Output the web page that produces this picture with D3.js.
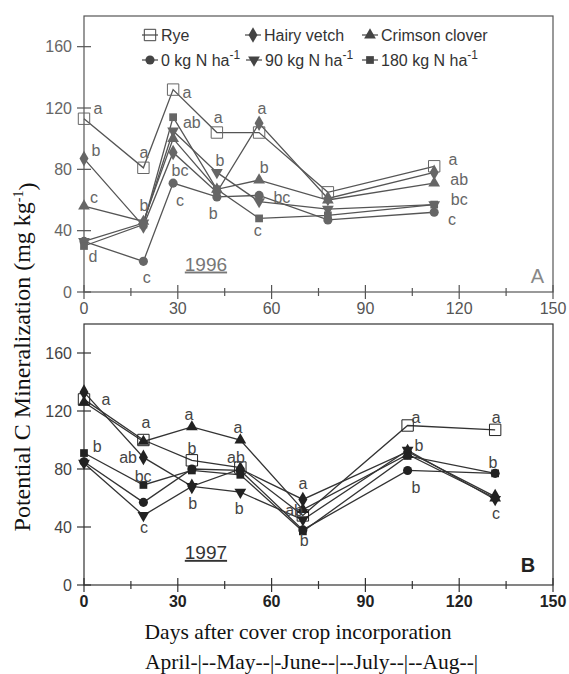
<!DOCTYPE html>
<html><head><meta charset="utf-8">
<script src="https://cdn.jsdelivr.net/npm/d3@7"></script>
<style>body{margin:0;background:#fff;} svg{display:block;}</style>
</head><body>
<script>
// ---------- DATA ----------
const seriesNames = ["Rye", "Hairy vetch", "Crimson clover", "0 kg N ha", "90 kg N ha", "180 kg N ha"];
const seriesKeys = ["rye", "hairy", "crimson", "n0", "n90", "n180"];
const xTicks = [0, 30, 60, 90, 120, 150];
const xMinorTicks = [15, 45, 75, 105, 135];
const yTicks = [0, 40, 80, 120, 160];

// Panel A (1996)
const daysA = [0, 19, 28.5, 42.5, 56, 78, 112];
const ryeA = [113, 81, 132, 104, 104, 65, 82];
const hairyA = [87, 43, 91, 65, 110, 61, 78];
const crimsonA = [56, 46, 100, 67, 73, 60, 71];
const n0A = [33, 20, 71, 62, 63, 47, 52];
const n90A = [33, 45, 105, 78, 59, 54, 57];
const n180A = [30, 44, 114, 67, 48, 50, 57];
const lettersA = [
  [4.5,120,"a"],[3.8,92.6,"b"],[3.2,62,"c"],[2.9,23.5,"d"],
  [19.2,91,"a"],[19.2,56.7,"b"],[20.1,9.8,"c"],
  [32.9,130,"a"],[34.5,111,"ab"],[30.7,79.6,"bc"],[30.7,60,"c"],
  [42.9,114,"a"],[43.5,86,"b"],[41.3,51.5,"b"],
  [56.9,120,"a"],[57.6,81.5,"b"],[63.3,62,"bc"],[55.6,40.4,"c"],
  [118,86.8,"a"],[120,73.7,"ab"],[120,60.7,"bc"],[117.7,47.6,"c"]
];

// Panel B (1997)
const daysB = [0, 19, 34.5, 50, 70, 103.5, 131.5];
const ryeB = [128, 100, 86, 81, 48, 110, 107];
const hairyB = [133, 88, 68, 80, 59, 92, 61];
const crimsonB = [126, 99, 109, 100, 52, 90, 60];
const n0B = [85, 57, 80, 79, 38, 79, 77];
const n90B = [84, 48, 68, 64, 45, 93, 59];
const n180B = [91, 69, 79, 76, 37, 89, 77];
const lettersB = [
  [7,128,"a"],[4.2,96,"b"],
  [19.8,112.4,"a"],[14.1,88.3,"ab"],[18.9,75,"bc"],[19.2,40,"c"],
  [33.6,118,"a"],[34.5,94.5,"b"],[34.8,56.6,"b"],
  [49.2,109,"a"],[48.6,88.3,"ab"],[49.6,53,"b"],
  [70,70.3,"a"],[67.2,51.7,"ab"],[70.4,31,"b"],
  [106.2,116,"a"],[107.1,96.5,"b"],[106.2,67.6,"b"],
  [131.8,116,"a"],[130.8,84.8,"b"],[131.8,49.7,"c"]
];

// ---------- DRAW ----------
const W = 569, H = 674;
const svg = d3.select("body").append("svg").attr("width", W).attr("height", H);
const SANS = "Liberation Sans, Arial, Helvetica, sans-serif";
const SERIF = "Liberation Serif, Times New Roman, serif";

const symbolFor = {
  rye: {t: d3.symbolSquare, size: 130, fill: "none"},
  hairy: {t: d3.symbolDiamond, size: 70},
  crimson: {t: d3.symbolTriangle, size: 60},
  n0: {t: d3.symbolCircle, size: 65},
  n90: {t: "down", size: 60},
  n180: {t: d3.symbolSquare, size: 60}
};

function drawMarker(g, key, x, y, col) {
  const s = symbolFor[key];
  const typ = s.t === "down" ? d3.symbolTriangle : s.t;
  const p = g.append("path").attr("d", d3.symbol().type(typ).size(s.size)())
    .attr("transform", `translate(${x},${y})` + (s.t === "down" ? " rotate(180)" : ""));
  if (s.fill === "none") p.attr("fill", "none").attr("stroke", col).attr("stroke-width", 1);
  else p.attr("fill", col).attr("stroke", "none");
}

function panel(opts) {
  const {top, bottom, days, series, letters, lineCol, markCol, textCol, tickCol, xBold, year, yearCol, tag, tagBold, tagCol} = opts;
  const x = d3.scaleLinear().domain([0, 150]).range([84, 553]);
  const y = d3.scaleLinear().domain([0, 180]).range([bottom, top]);
  const g = svg.append("g");
  g.append("rect").attr("x", x(0)).attr("y", y(180)).attr("width", x(150) - x(0)).attr("height", y(0) - y(180))
    .attr("fill", "none").attr("stroke", lineCol).attr("stroke-width", 1.2);
  xTicks.forEach(t => g.append("line").attr("x1", x(t)).attr("x2", x(t)).attr("y1", y(0) - 7).attr("y2", y(0) + 7).attr("stroke", lineCol).attr("stroke-width", 1.2));
  xMinorTicks.forEach(t => g.append("line").attr("x1", x(t)).attr("x2", x(t)).attr("y1", y(0) - 4).attr("y2", y(0) + 4).attr("stroke", lineCol).attr("stroke-width", 1.2));
  yTicks.forEach(t => g.append("line").attr("x1", x(0) - 7).attr("x2", x(0) + 7).attr("y1", y(t)).attr("y2", y(t)).attr("stroke", lineCol).attr("stroke-width", 1.2));
  g.selectAll(".xl").data(xTicks).enter().append("text")
    .attr("x", d => x(d)).attr("y", y(0) + 22).attr("text-anchor", "middle")
    .attr("font-family", SANS).attr("font-size", 16).attr("font-weight", xBold ? "bold" : "normal")
    .attr("fill", tickCol).text(d => d);
  g.selectAll(".yl").data(yTicks).enter().append("text")
    .attr("x", x(0) - 12).attr("y", d => y(d)).attr("dy", "0.36em").attr("text-anchor", "end")
    .attr("font-family", SANS).attr("font-size", 16).attr("fill", textCol).text(d => d);
  const line = d3.line().x(d => x(d[0])).y(d => y(d[1]));
  seriesKeys.forEach(k => {
    const pts = days.map((d, i) => [d, series[k][i]]);
    g.append("path").attr("d", line(pts)).attr("fill", "none").attr("stroke", lineCol).attr("stroke-width", 1.3);
  });
  seriesKeys.forEach(k => {
    days.forEach((d, i) => drawMarker(g, k, x(d), y(series[k][i]), markCol));
  });
  letters.forEach(l => g.append("text").attr("x", x(l[0])).attr("y", y(l[1])).attr("dy", "0.36em")
    .attr("text-anchor", "middle").attr("font-family", SANS).attr("font-size", 16).attr("fill", textCol).text(l[2]));
  g.append("text").attr("x", x(39)).attr("y", y(year.v)).attr("text-anchor", "middle")
    .attr("font-family", SANS).attr("font-size", 19).attr("fill", yearCol).attr("text-decoration", "underline").text(year.t);
  g.append("text").attr("x", x(tag.d)).attr("y", y(tag.v)).attr("text-anchor", "middle")
    .attr("font-family", SANS).attr("font-size", 20).attr("font-weight", tagBold ? "bold" : "normal")
    .attr("fill", tagCol).text(tag.t);
  return {x, y};
}

panel({
  top: 16, bottom: 292, days: daysA,
  series: {rye: ryeA, hairy: hairyA, crimson: crimsonA, n0: n0A, n90: n90A, n180: n180A},
  letters: lettersA, lineCol: "#555", markCol: "#666", textCol: "#666", tickCol: "#555", xBold: false,
  year: {t: "1996", v: 14}, yearCol: "#777", tag: {t: "A", d: 145, v: 6}, tagBold: false, tagCol: "#888"
});
panel({
  top: 324, bottom: 585, days: daysB,
  series: {rye: ryeB, hairy: hairyB, crimson: crimsonB, n0: n0B, n90: n90B, n180: n180B},
  letters: lettersB, lineCol: "#333", markCol: "#222", textCol: "#444", tickCol: "#222", xBold: true,
  year: {t: "1997", v: 18}, yearCol: "#333", tag: {t: "B", d: 142, v: 9}, tagBold: true, tagCol: "#222"
});

// legend
const leg = svg.append("g");
const legPos = [[150, 35], [253, 35], [370, 35], [150, 60], [254, 60], [370, 60]];
seriesKeys.forEach((k, i) => {
  const [lx, ly] = legPos[i];
  leg.append("line").attr("x1", lx - 8).attr("x2", lx + 8).attr("y1", ly).attr("y2", ly).attr("stroke", "#444").attr("stroke-width", 1.2);
  drawMarker(leg, k, lx, ly, "#444");
  const t = leg.append("text").attr("x", lx + 11).attr("y", ly).attr("dy", "0.36em")
    .attr("font-family", SANS).attr("font-size", 16).attr("fill", "#333");
  t.append("tspan").text(seriesNames[i]);
  if (i >= 3) t.append("tspan").attr("dy", "-0.55em").attr("font-size", 12).text("-1");
});

// axis titles
const yl = svg.append("text").attr("transform", "translate(30,357) rotate(-90)").attr("text-anchor", "middle")
  .attr("font-family", SERIF).attr("font-size", 24).attr("fill", "#111");
yl.append("tspan").text("Potential C Mineralization (mg kg");
yl.append("tspan").attr("dy", "-0.5em").attr("font-size", 14).text("-1");
yl.append("tspan").attr("dy", "0.5em").text(")");

svg.append("text").attr("x", 298).attr("y", 639).attr("text-anchor", "middle")
  .attr("font-family", SERIF).attr("font-size", 21.5).attr("fill", "#111").text("Days after cover crop incorporation");
svg.append("text").attr("x", 145).attr("y", 669).attr("text-anchor", "start")
  .attr("font-family", SERIF).attr("font-size", 21.5).attr("fill", "#111").text("April-|--May--|-June--|--July--|--Aug--|");
</script>
</body></html>
